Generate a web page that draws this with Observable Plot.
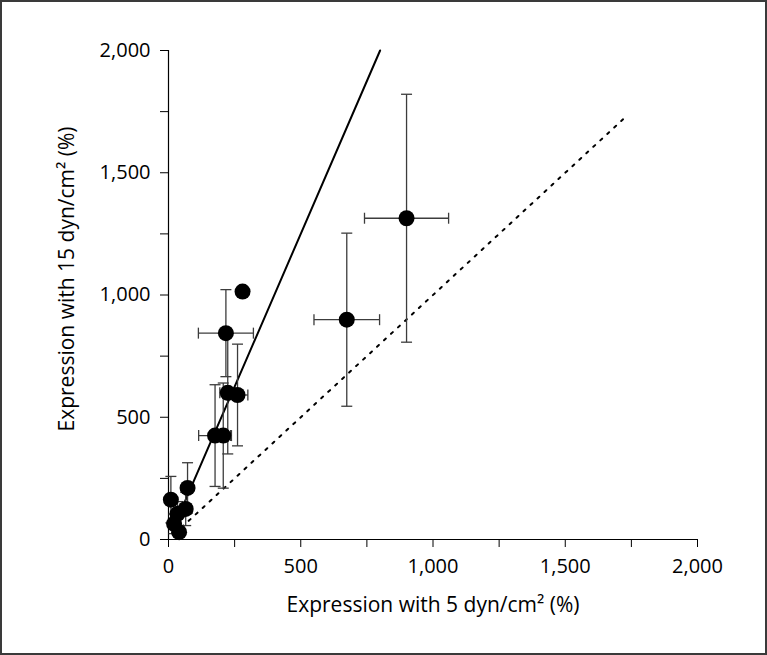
<!DOCTYPE html>
<html><head><meta charset="utf-8">
<script src="https://cdn.jsdelivr.net/npm/d3@7"></script>
<script src="https://cdn.jsdelivr.net/npm/@observablehq/plot@0.6"></script>
<style>
body{margin:0;background:#fff;}
#chart{width:767px;height:655px;position:relative;overflow:hidden;}
#chart svg{display:block;}
#border{position:absolute;left:0;top:0;width:767px;height:655px;box-sizing:border-box;border:2px solid #3a3a3a;pointer-events:none;}
</style></head><body><div id="chart"><div id="border"></div></div>
<script>
// Data (x: expression with 5 dyn/cm², y: expression with 15 dyn/cm²)
const expr5 =  [900, 674, 280, 217, 224, 261, 176, 207,  72,   9,  65,  34,  21,  40];
const expr15 = [1314, 899, 1014, 844, 600, 591, 425, 425, 211, 163, 125, 105,  64,  30];
const err5 =   [159, 124,   0, 104,  30,  39,  62,  28,  15,  10,  20,  15,  10,   8];
const err15 =  [507, 354,   0, 178, 250, 208, 208, 215, 103,  95,  68,  50,  40,  20];

const fitX = [50, 800];
const fitY = [125, 2000];
const identityX = [50, 1720];
const identityY = [50, 1720];

const axisTicks = [0, 250, 500, 750, 1000, 1250, 1500, 1750, 2000];
const labeledTicks = [0, 500, 1000, 1500, 2000];
const xTitle = "Expression with 5 dyn/cm² (%)";
const yTitle = "Expression with 15 dyn/cm² (%)";

const points = expr5.map((x, i) => ({x, y: expr15[i], ex: err5[i], ey: err15[i]}));
const xErr = points.filter(d => d.ex > 0);
const yErr = points.filter(d => d.ey > 0);
const fitLine = fitX.map((x, i) => ({x, y: fitY[i]}));
const idLine = identityX.map((x, i) => ({x, y: identityY[i]}));

const hCap = {draw(ctx, size){const r = Math.sqrt(size / Math.PI); ctx.moveTo(-r, 0); ctx.lineTo(r, 0);}};
const vCap = {draw(ctx, size){const r = Math.sqrt(size / Math.PI); ctx.moveTo(0, -r); ctx.lineTo(0, r);}};
const fmt = d => labeledTicks.includes(d) ? d3.format(",")(d) : "";
const errColor = "#3c3c3c";

const chart = Plot.plot({
  width: 767, height: 655,
  marginLeft: 168, marginRight: 70, marginTop: 50, marginBottom: 116,
  style: {fontFamily: "Open Sans", fontSize: "20px", color: "#000", background: "transparent"},
  x: {domain: [0, 2000], ticks: axisTicks, tickFormat: fmt, tickSize: 8, tickPadding: 11, label: null},
  y: {domain: [0, 2000], ticks: axisTicks, tickFormat: fmt, tickSize: 8, tickPadding: 10, label: null},
  marks: [
    Plot.ruleX([0], {stroke: "#000", strokeWidth: 1.2}),
    Plot.ruleY([0], {stroke: "#000", strokeWidth: 1.2}),
    Plot.line(idLine, {x: "x", y: "y", stroke: "#000", strokeWidth: 2, strokeDasharray: "2.5,7"}),
    Plot.line(fitLine, {x: "x", y: "y", stroke: "#000", strokeWidth: 2}),
    // horizontal error bars
    Plot.link(xErr, {x1: d => d.x - d.ex, x2: d => d.x + d.ex, y1: "y", y2: "y", stroke: errColor, strokeWidth: 1.3}),
    Plot.dot(xErr, {x: d => d.x - d.ex, y: "y", symbol: vCap, r: 5.5, stroke: errColor, strokeWidth: 1.3, fill: "none"}),
    Plot.dot(xErr, {x: d => d.x + d.ex, y: "y", symbol: vCap, r: 5.5, stroke: errColor, strokeWidth: 1.3, fill: "none"}),
    // vertical error bars
    Plot.link(yErr, {x1: "x", x2: "x", y1: d => d.y - d.ey, y2: d => d.y + d.ey, stroke: errColor, strokeWidth: 1.3}),
    Plot.dot(yErr, {x: "x", y: d => d.y - d.ey, symbol: hCap, r: 5.5, stroke: errColor, strokeWidth: 1.3, fill: "none"}),
    Plot.dot(yErr, {x: "x", y: d => d.y + d.ey, symbol: hCap, r: 5.5, stroke: errColor, strokeWidth: 1.3, fill: "none"}),
    Plot.dot(points, {x: "x", y: "y", r: 8, fill: "#000", stroke: "none"}),
    Plot.text([xTitle], {text: d => d, frameAnchor: "bottom", textAnchor: "middle", dy: 72, fontSize: 21, fill: "#000"}),
    Plot.text([yTitle], {text: d => d, frameAnchor: "left", textAnchor: "middle", rotate: -90, dx: -101, dy: -16, fontSize: 21, fill: "#000"})
  ]
});
document.getElementById("chart").prepend(chart);
</script>
</body></html>
